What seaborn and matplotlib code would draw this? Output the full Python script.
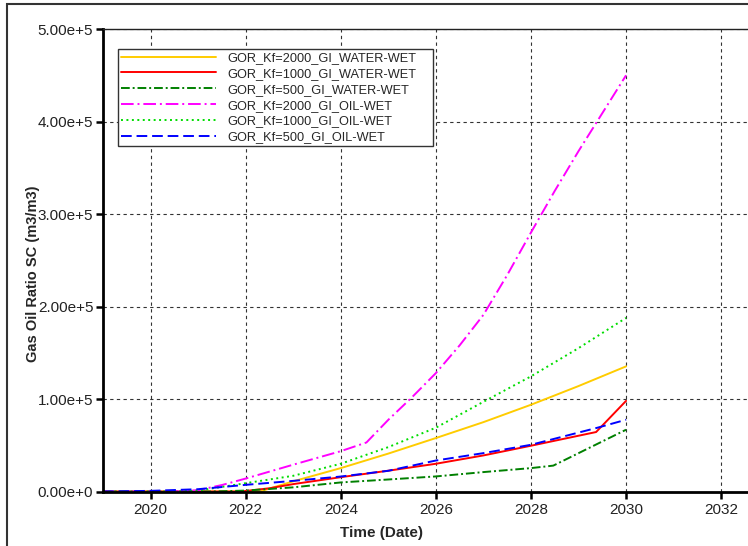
import matplotlib
matplotlib.use('Agg')
import matplotlib.pyplot as plt
from matplotlib.patches import Rectangle
from matplotlib.ticker import FuncFormatter, MultipleLocator
import seaborn as sns

# series (x = decimal year, y = GOR m3/m3)
labels = ["GOR_Kf=2000_GI_WATER-WET", "GOR_Kf=1000_GI_WATER-WET", "GOR_Kf=500_GI_WATER-WET",
          "GOR_Kf=2000_GI_OIL-WET", "GOR_Kf=1000_GI_OIL-WET", "GOR_Kf=500_GI_OIL-WET"]

yrs_2000_ww = [2019, 2022.3, 2023, 2024, 2025, 2026, 2027, 2028, 2029, 2030]
gor_2000_ww = [0, 0, 11000, 25300, 41000, 57800, 75000, 93800, 114000, 135300]

yrs_1000_ww = [2019, 2021.9, 2022.5, 2023, 2024, 2025, 2026, 2027, 2028, 2029.37, 2030]
gor_1000_ww = [0, 0, 3500, 8000, 15500, 22500, 30000, 39000, 49500, 64300, 98000]

yrs_500_ww = [2019, 2021.3, 2022, 2023, 2024, 2025, 2026, 2027, 2028, 2028.47, 2030]
gor_500_ww = [0, 0, 1000, 4500, 9800, 13000, 16300, 21000, 25300, 28000, 66800]

yrs_2000_ow = [2019, 2020.5, 2021, 2021.5, 2022, 2023, 2024, 2024.54, 2025, 2025.5,
               2026, 2026.5, 2027, 2027.5, 2028, 2028.5, 2029, 2029.5, 2030]
gor_2000_ow = [0, 0, 1500, 7000, 14000, 29000, 43600, 53000, 77500, 102000,
               128000, 158000, 191000, 234000, 280000, 325000, 368000, 409000, 450000]

yrs_1000_ow = [2019, 2020.5, 2021, 2022, 2023, 2024, 2025, 2026, 2027, 2028, 2029, 2030]
gor_1000_ow = [0, 0, 1000, 9000, 17000, 30000, 48000, 69000, 97000, 124500, 155000, 187700]

yrs_500_ow = [2019, 2020, 2021, 2022, 2023, 2024, 2025, 2026, 2027, 2028, 2029.4, 2030]
gor_500_ow = [0, 700, 2500, 7200, 11500, 16200, 22400, 33500, 41500, 50500, 69000, 77600]

series = [(yrs_2000_ww, gor_2000_ww), (yrs_1000_ww, gor_1000_ww), (yrs_500_ww, gor_500_ww),
          (yrs_2000_ow, gor_2000_ow), (yrs_1000_ow, gor_1000_ow), (yrs_500_ow, gor_500_ow)]
colors = ["#FFCC00", "#FF0000", "#008000", "#FF00FF", "#00DD00", "#0000FF"]
styles = ["-", "-", (0, (4.5, 1.5, 1, 1.5)), (0, (6.5, 2, 1, 2)), (0, (1, 1.8)), (0, (5.5, 2.5))]

sns.set_style("white")
plt.rcParams['font.family'] = ['Liberation Sans', 'DejaVu Sans']

fig = plt.figure(figsize=(7.48, 5.46), dpi=100)
ax = fig.add_axes([0.1377, 0.0998, 0.89, 0.847])

for (x, y), lab, c, ls in zip(series, labels, colors, styles):
    sns.lineplot(x=x, y=y, ax=ax, color=c, linestyle=ls, linewidth=1.4,
                 label=lab, estimator=None, sort=False)

ax.set_xlim(2019, 2033)
ax.set_ylim(0, 500000)
ax.xaxis.set_major_locator(MultipleLocator(2))
ax.yaxis.set_major_locator(MultipleLocator(100000))


def sci_fmt(v, pos):
    m, e = f"{v:.2e}".split("e")
    sign = "-" if int(e) < 0 else "+"
    return f"{m}e{sign}{abs(int(e))}"


ax.yaxis.set_major_formatter(FuncFormatter(sci_fmt))
ax.xaxis.set_major_formatter(FuncFormatter(lambda v, p: f"{int(round(v))}"))

ax.grid(True, color="#333333", linestyle=(0, (3, 3)), linewidth=0.8)
ax.tick_params(axis="both", which="major", direction="out", length=5, width=1.8,
               labelsize=11, color="black", labelcolor="#222222", left=True, bottom=True)
ax.tick_params(axis="y", pad=2)
for side in ["left", "bottom"]:
    ax.spines[side].set_linewidth(2)
    ax.spines[side].set_color("black")
ax.spines["top"].set_linewidth(1)
ax.spines["top"].set_color("#222222")
ax.spines["right"].set_visible(False)

ax.set_xlabel("Time (Date)", fontsize=11, fontweight="bold")
ax.set_ylabel("Gas Oil Ratio SC (m3/m3)", fontsize=10.5, fontweight="bold")
ax.xaxis.set_label_coords(0.419, -0.075)
ax.yaxis.set_label_coords(-0.095, 0.47)

# legend box spans x 118..433 px, top at 49 px in the reference
leg_w = (433 - 118) / 666
leg_h = 0.2
leg = ax.legend(loc="upper left", bbox_to_anchor=(0.0225, 0.957 - leg_h, leg_w, leg_h),
                mode="expand", fontsize=9.2,
                handlelength=7.4, handletextpad=0.9, labelspacing=0.3,
                borderpad=0.25, borderaxespad=0, fancybox=False, framealpha=1,
                edgecolor="#333333")
leg.get_frame().set_linewidth(1)

# outer frame of the original window
fig.patches.append(Rectangle((7 / 748, -0.1), 1.2, 1.1 - 4 / 546, transform=fig.transFigure,
                             fill=False, edgecolor="#333333", linewidth=1.5))

fig.savefig("out.png", dpi=100)
